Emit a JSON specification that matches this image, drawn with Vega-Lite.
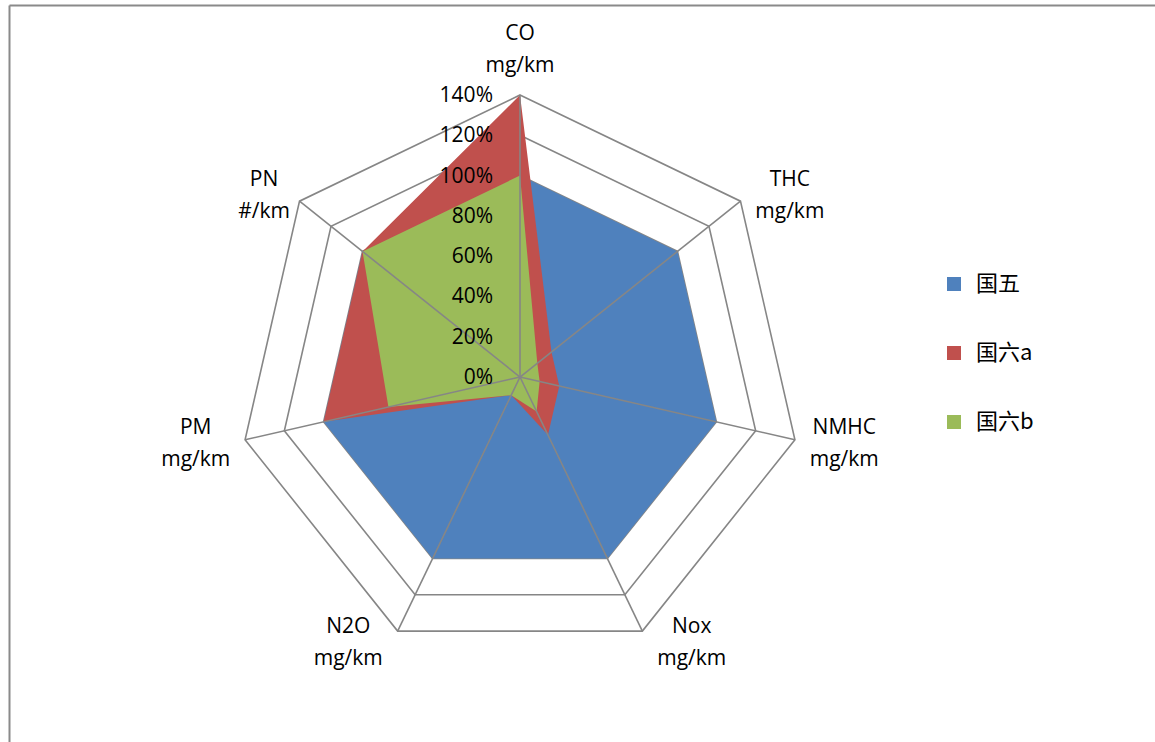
{
  "$schema": "https://vega.github.io/schema/vega-lite/v6.json",
  "width": 1146,
  "height": 737,
  "autosize": "none",
  "padding": {"left": 9, "top": 5, "right": 0, "bottom": 0},
  "background": "white",
  "config": {
    "view": {"stroke": null},
    "font": "Open Sans"
  },
  "datasets": {
    "series": [
      {"series": "国五", "axis": "CO", "idx": 0, "value": 100},
      {"series": "国五", "axis": "THC", "idx": 1, "value": 100},
      {"series": "国五", "axis": "NMHC", "idx": 2, "value": 100},
      {"series": "国五", "axis": "Nox", "idx": 3, "value": 100},
      {"series": "国五", "axis": "N2O", "idx": 4, "value": 100},
      {"series": "国五", "axis": "PM", "idx": 5, "value": 100},
      {"series": "国五", "axis": "PN", "idx": 6, "value": 100},
      {"series": "国六a", "axis": "CO", "idx": 0, "value": 140},
      {"series": "国六a", "axis": "THC", "idx": 1, "value": 20},
      {"series": "国六a", "axis": "NMHC", "idx": 2, "value": 20},
      {"series": "国六a", "axis": "Nox", "idx": 3, "value": 32},
      {"series": "国六a", "axis": "N2O", "idx": 4, "value": 10},
      {"series": "国六a", "axis": "PM", "idx": 5, "value": 100},
      {"series": "国六a", "axis": "PN", "idx": 6, "value": 100},
      {"series": "国六b", "axis": "CO", "idx": 0, "value": 100},
      {"series": "国六b", "axis": "THC", "idx": 1, "value": 11},
      {"series": "国六b", "axis": "NMHC", "idx": 2, "value": 10},
      {"series": "国六b", "axis": "Nox", "idx": 3, "value": 19},
      {"series": "国六b", "axis": "N2O", "idx": 4, "value": 10},
      {"series": "国六b", "axis": "PM", "idx": 5, "value": 67},
      {"series": "国六b", "axis": "PN", "idx": 6, "value": 100}
    ],
    "axes": [
      {"name": "CO", "unit": "mg/km", "idx": 0, "levels": [20, 40, 60, 80, 100, 120, 140]},
      {"name": "THC", "unit": "mg/km", "idx": 1, "levels": [20, 40, 60, 80, 100, 120, 140]},
      {"name": "NMHC", "unit": "mg/km", "idx": 2, "levels": [20, 40, 60, 80, 100, 120, 140]},
      {"name": "Nox", "unit": "mg/km", "idx": 3, "levels": [20, 40, 60, 80, 100, 120, 140]},
      {"name": "N2O", "unit": "mg/km", "idx": 4, "levels": [20, 40, 60, 80, 100, 120, 140]},
      {"name": "PM", "unit": "mg/km", "idx": 5, "levels": [20, 40, 60, 80, 100, 120, 140]},
      {"name": "PN", "unit": "#/km", "idx": 6, "levels": [20, 40, 60, 80, 100, 120, 140]}
    ],
    "ticks": [
      {"level": 0, "label": "0%"},
      {"level": 20, "label": "20%"},
      {"level": 40, "label": "40%"},
      {"level": 60, "label": "60%"},
      {"level": 80, "label": "80%"},
      {"level": 100, "label": "100%"},
      {"level": 120, "label": "120%"},
      {"level": 140, "label": "140%"}
    ]
  },
  "encoding": {
    "x": {
      "field": "x", "type": "quantitative",
      "scale": {"domain": [-253.69, 315.25], "nice": false, "zero": false},
      "axis": {"orient": "top", "labels": false, "ticks": false, "grid": false, "title": null, "domainColor": "#8A8A8A", "domainWidth": 2}
    },
    "y": {
      "field": "y", "type": "quantitative",
      "scale": {"domain": [-181.2, 184.68], "nice": false, "zero": false},
      "axis": {"orient": "left", "labels": false, "ticks": false, "grid": false, "title": null, "domainColor": "#8A8A8A", "domainWidth": 2}
    }
  },
  "layer": [
    {
      "data": {"name": "axes"},
      "transform": [
        {"flatten": ["levels"]},
        {"calculate": "datum.idx * 2 * PI / 7", "as": "a"},
        {"calculate": "datum.levels * sin(datum.a)", "as": "x"},
        {"calculate": "datum.levels * cos(datum.a)", "as": "y"}
      ],
      "mark": {"type": "line", "interpolate": "linear-closed", "stroke": "#868686", "strokeWidth": 1.6},
      "encoding": {
        "detail": {"field": "levels", "type": "nominal"},
        "order": {"field": "idx", "type": "quantitative"}
      }
    },
    {
      "data": {"name": "series"},
      "transform": [
        {"calculate": "datum.idx * 2 * PI / 7", "as": "a"},
        {"calculate": "datum.value * sin(datum.a)", "as": "x"},
        {"calculate": "datum.value * cos(datum.a)", "as": "y"}
      ],
      "mark": {"type": "line", "interpolate": "linear-closed", "filled": true},
      "encoding": {
        "color": {
          "field": "series", "type": "nominal",
          "scale": {"domain": ["国五", "国六a", "国六b"], "range": ["#4F81BD", "#C0504D", "#9BBB59"]},
          "legend": {
            "title": null,
            "orient": "none",
            "legendX": 934,
            "legendY": 268,
            "symbolType": "square",
            "symbolSize": 196,
            "symbolStrokeWidth": 0,
            "labelFont": "Noto Sans CJK SC",
            "labelFontSize": 22,
            "labelColor": "#000000",
            "labelOffset": 11,
            "rowPadding": 47,
            "padding": 0
          }
        },
        "order": {"field": "idx", "type": "quantitative"}
      }
    },
    {
      "data": {"name": "axes"},
      "transform": [
        {"calculate": "datum.idx * 2 * PI / 7", "as": "a"},
        {"calculate": "140 * sin(datum.a)", "as": "x"},
        {"calculate": "140 * cos(datum.a)", "as": "y"}
      ],
      "mark": {"type": "rule", "stroke": "#868686", "strokeWidth": 1.6},
      "encoding": {
        "x2": {"datum": 0},
        "y2": {"datum": 0}
      }
    },
    {
      "data": {"name": "ticks"},
      "transform": [
        {"calculate": "0", "as": "x"},
        {"calculate": "datum.level", "as": "y"}
      ],
      "mark": {"type": "text", "align": "right", "baseline": "middle", "dx": -27, "dy": 1, "font": "Open Sans", "fontSize": 21, "color": "#000000"},
      "encoding": {
        "text": {"field": "label", "type": "nominal"}
      }
    },
    {
      "data": {"name": "axes"},
      "transform": [
        {"calculate": "datum.idx * 2 * PI / 7", "as": "a"},
        {"calculate": "datum.name + '\\n' + datum.unit", "as": "label"},
        {"calculate": "abs(sin(datum.a)) < 0.01 ? 0 : 140 * sin(datum.a) + (sin(datum.a) > 0 ? 1 : -1) * (24.5 - 6.9 * (5 - length(datum.unit)))", "as": "x"},
        {"calculate": "abs(sin(datum.a)) < 0.01 ? 170.3 : 145.54 * cos(datum.a) + 6.98", "as": "y"}
      ],
      "mark": {"type": "text", "align": "center", "baseline": "middle", "lineBreak": "\n", "lineHeight": 32, "font": "Open Sans", "fontSize": 21, "color": "#000000"},
      "encoding": {
        "text": {"field": "label", "type": "nominal"}
      }
    }
  ]
}
